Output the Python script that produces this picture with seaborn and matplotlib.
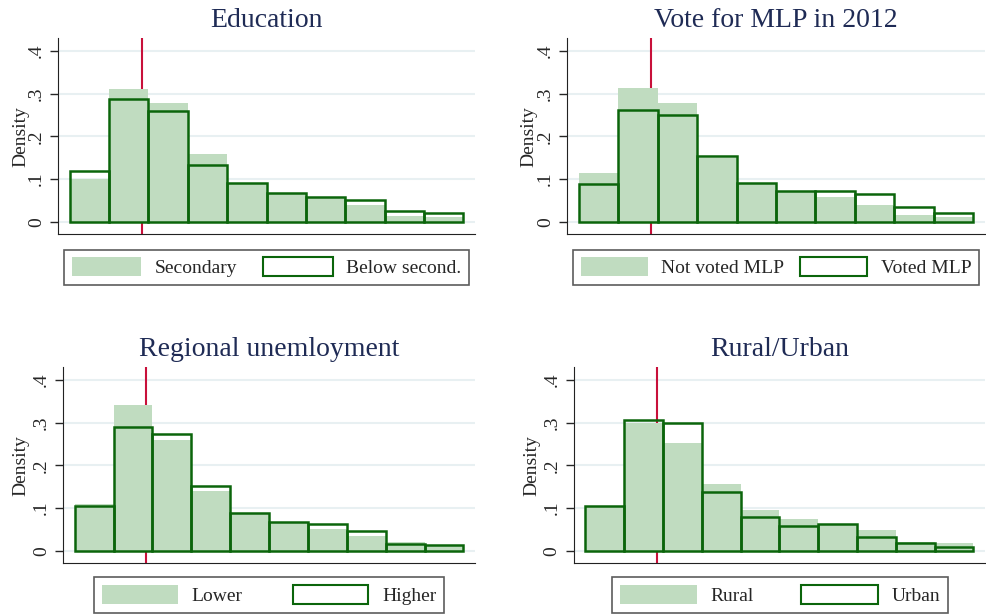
import numpy as np
import pandas as pd
import matplotlib.pyplot as plt
import seaborn as sns
from matplotlib.patches import Patch

# histogram bins (same bins in every panel) and the reference line
edges = list(range(0, 11))
centers = [e + 0.5 for e in edges[:-1]]
ref_line = 1.84

# densities, one value per bin
educ_secondary = [0.101, 0.312, 0.279, 0.159, 0.089, 0.067, 0.059, 0.040, 0.0125, 0.012]
educ_below = [0.119, 0.2875, 0.259, 0.134, 0.091, 0.068, 0.059, 0.050, 0.026, 0.0195]

mlp_not = [0.113, 0.314, 0.277, 0.149, 0.089, 0.070, 0.057, 0.038, 0.015, 0.012]
mlp_voted = [0.089, 0.262, 0.249, 0.155, 0.091, 0.071, 0.073, 0.065, 0.035, 0.021]

unemp_lower = [0.109, 0.342, 0.259, 0.139, 0.089, 0.068, 0.051, 0.034, 0.021, 0.0125]
unemp_higher = [0.105, 0.289, 0.274, 0.151, 0.0875, 0.066, 0.062, 0.045, 0.016, 0.0125]

rural = [0.105, 0.300, 0.252, 0.156, 0.095, 0.075, 0.061, 0.049, 0.0195, 0.017]
urban = [0.105, 0.306, 0.298, 0.1375, 0.079, 0.0585, 0.0625, 0.032, 0.018, 0.0086]

titles = ["Education", "Vote for MLP in 2012", "Regional unemloyment", "Rural/Urban"]
legend_labels = [("Secondary", "Below second."), ("Not voted MLP", "Voted MLP"),
                 ("Lower", "Higher"), ("Rural", "Urban")]
filled_data = [educ_secondary, mlp_not, unemp_lower, rural]
outline_data = [educ_below, mlp_voted, unemp_higher, urban]

fill_col = "#c0dcc0"
line_col = "#0b650b"
red_col = "#c8103a"
title_col = "#1f2b55"

sns.set_style("white")
plt.rcParams["font.family"] = ["Liberation Serif", "DejaVu Serif"]

fig = plt.figure(figsize=(9.86, 6.16), dpi=100)

# axes boxes [left, bottom, width, height] in figure fraction
ax_boxes = [[0.0588, 0.620, 0.423, 0.318],
            [0.575, 0.620, 0.424, 0.318],
            [0.0639, 0.086, 0.418, 0.318],
            [0.582, 0.086, 0.417, 0.318]]
leg_boxes = [[0.0649, 0.537, 0.4108, 0.062],
             [0.5811, 0.537, 0.4118, 0.062],
             [0.0953, 0.005, 0.355, 0.062],
             [0.6207, 0.005, 0.3408, 0.062]]
ylab_x = [-0.069, -0.071, -0.082, -0.082]
handle_len = [3.55, 3.45, 3.9, 3.95]

for i in range(4):
    ax = fig.add_axes(ax_boxes[i])
    for y in [0, 0.1, 0.2, 0.3, 0.4]:
        ax.axhline(y, color="#e8f0f2", lw=1.5, zorder=0)
    ax.axvline(ref_line, color=red_col, lw=1.5, zorder=1)

    df = pd.DataFrame({"x": centers, "a": filled_data[i], "b": outline_data[i]})
    sns.histplot(data=df, x="x", weights="a", bins=edges, stat="count",
                 color=fill_col, alpha=1, linewidth=0, ax=ax, zorder=2)
    sns.histplot(data=df, x="x", weights="b", bins=edges, stat="count",
                 fill=False, color=line_col, edgecolor=line_col, linewidth=1.8,
                 ax=ax, zorder=3)

    ax.set_xlim(-0.3, 10.3)
    ax.set_ylim(-0.029, 0.43)
    ax.set_yticks([0, 0.1, 0.2, 0.3, 0.4])
    ax.set_yticklabels(["0", ".1", ".2", ".3", ".4"], rotation=90, va="center")
    ax.set_xticks([])
    ax.tick_params(axis="y", length=5.5, width=1, pad=4, labelsize=14, left=True)
    ax.set_xlabel("")
    ax.set_ylabel("Density", fontsize=14)
    ax.yaxis.set_label_coords(ylab_x[i], 0.5)
    for s in ["top", "right"]:
        ax.spines[s].set_visible(False)
    ax.spines["left"].set_color("#222222")
    ax.spines["bottom"].set_color("#222222")
    ax.set_title(titles[i], fontsize=20, color=title_col, pad=8)

    handles = [Patch(facecolor=fill_col, edgecolor="none"),
               Patch(facecolor="white", edgecolor=line_col, linewidth=1.5)]
    leg = fig.legend(handles, legend_labels[i], loc="lower left",
                     bbox_to_anchor=leg_boxes[i], mode="expand", ncol=2,
                     fancybox=False, edgecolor="#333333", fontsize=14,
                     handlelength=handle_len[i], handleheight=1.1, handletextpad=0.7,
                     borderaxespad=0, borderpad=0.4)
    leg.get_frame().set_linewidth(1.2)

fig.savefig("out.png", dpi=100)
